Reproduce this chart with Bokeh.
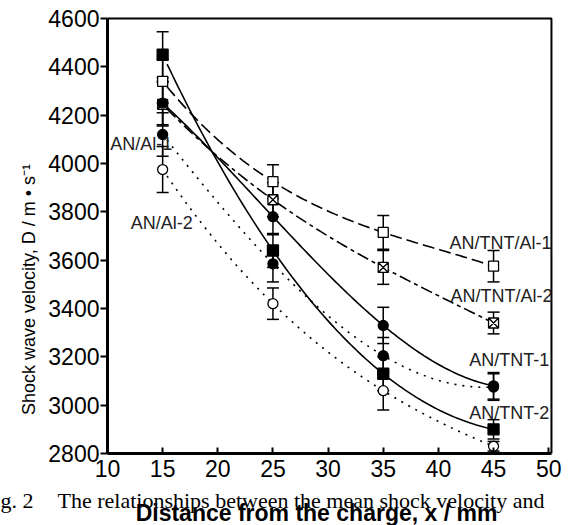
import numpy as np
from bokeh.plotting import figure
from bokeh.models import (ColumnDataSource, Whisker, TeeHead, Label, FixedTicker,
                          LinearAxis)
from bokeh.embed import file_html
from bokeh.resources import INLINE

# ---- data ----
distance = [15, 25, 35, 45]

tnt_al_1 = [4340, 3925, 3715, 3575]
tnt_al_1_err = [90, 70, 70, 65]
tnt_al_2 = [4245, 3850, 3570, 3340]
tnt_al_2_err = [90, 70, 70, 45]
tnt_1 = [4250, 3780, 3330, 3080]
tnt_1_err = [90, 75, 75, 55]
tnt_2 = [4450, 3640, 3130, 2900]
tnt_2_err = [95, 70, 70, 40]
al_1 = [4120, 3585, 3205, 3075]
al_1_err = [90, 75, 75, 55]
al_2 = [3975, 3420, 3060, 2830]
al_2_err = [95, 65, 80, 20]

x_ticks = [10, 15, 20, 25, 30, 35, 40, 45, 50]
y_ticks = [2800, 3000, 3200, 3400, 3600, 3800, 4000, 4200, 4400, 4600]
X_MIN, X_MAX = 10, 50.25
Y_MIN, Y_MAX = 2800, 4600

FONT = "Liberation Sans"

# the frame covers the whole canvas; axes are pinned at fixed locations
p = figure(width=569, height=525, output_backend="svg", toolbar_location=None,
           x_range=(0.30, 51.886), y_range=(2502.1, 4674.5),
           x_axis_location=None, y_axis_location=None,
           min_border_left=0, min_border_right=0, min_border_top=0, min_border_bottom=0)
p.grid.visible = False
p.outline_line_color = None
p.background_fill_color = "white"
p.border_fill_color = "white"

xaxis = LinearAxis(fixed_location=Y_MIN, bounds=(X_MIN, X_MAX),
                   ticker=FixedTicker(ticks=x_ticks))
yaxis = LinearAxis(fixed_location=X_MIN, bounds=(Y_MIN, Y_MAX),
                   ticker=FixedTicker(ticks=y_ticks))
for ax in (xaxis, yaxis):
    ax.axis_line_width = 3
    ax.major_tick_line_width = 2
    ax.minor_tick_line_color = None
    ax.major_label_text_font = FONT
    ax.major_label_text_font_size = "23px"
    ax.major_label_text_color = "black"
xaxis.major_tick_in = 6
xaxis.major_tick_out = 0
xaxis.major_label_standoff = 6
yaxis.major_tick_in = 0
yaxis.major_tick_out = 7
yaxis.major_label_standoff = 1
p.add_layout(xaxis, "below")
p.add_layout(yaxis, "left")

# top and right edges of the box
p.line([X_MIN, X_MAX, X_MAX], [Y_MAX, Y_MAX, Y_MIN], line_color="black", line_width=2)

series = [
    (tnt_al_1, tnt_al_1_err, "12 5", "square", 10, "white"),
    (tnt_al_2, tnt_al_2_err, "12 4 4 4", "square_x", 10, "white"),
    (tnt_1, tnt_1_err, "solid", "circle", 10, "black"),
    (tnt_2, tnt_2_err, "solid", "square", 11, "black"),
    (al_1, al_1_err, "2 6", "circle", 10, "black"),
    (al_2, al_2_err, "2 6", "circle", 10, "white"),
]

xs_fine = np.linspace(15.4, 44.6, 120)
for vals, err, dash, marker, size, fill in series:
    v = np.array(vals, dtype=float)
    e = np.array(err, dtype=float)
    src = ColumnDataSource(dict(x=distance, y=vals, lo=v - e, hi=v + e))
    w = Whisker(base="x", lower="lo", upper="hi", source=src, line_color="black",
                line_width=1.5,
                upper_head=TeeHead(size=12, line_width=1.5, line_color="black"),
                lower_head=TeeHead(size=12, line_width=1.5, line_color="black"))
    p.add_layout(w)
    coeffs = np.polyfit(distance, vals, 3)
    p.line(xs_fine, np.polyval(coeffs, xs_fine), line_color="black", line_width=1.6,
           line_dash=dash)

for vals, err, dash, marker, size, fill in series:
    p.scatter(distance, vals, marker=marker, size=size, fill_color=fill,
              line_color="black", line_width=1.3)

labels = [
    ("AN/Al-1", 10.25, 4080),
    ("AN/Al-2", 12.1, 3755),
    ("AN/TNT/Al-1", 41.0, 3673),
    ("AN/TNT/Al-2", 41.1, 3450),
    ("AN/TNT-1", 42.8, 3185),
    ("AN/TNT-2", 42.8, 2968),
]
for txt, lx, ly in labels:
    p.add_layout(Label(x=lx, y=ly, text=txt, text_font=FONT, text_font_size="18px",
                       text_color="#222222", text_baseline="middle", text_align="left"))

# y-axis title
p.add_layout(Label(x=28, y=236, x_units="screen", y_units="screen", angle=np.pi / 2,
                   text="Shock wave velocity, D / m \u2022 s\u207b\u00b9",
                   text_font=FONT, text_font_size="18px", text_color="black",
                   text_baseline="middle", text_align="center"))

# caption fragment and x-axis title (screen units from bottom-left)
p.add_layout(Label(x=0, y=25, x_units="screen", y_units="screen",
                   text="g. 2", text_font="Liberation Serif", text_font_size="22px",
                   text_color="black", text_baseline="middle", text_align="left"))
p.add_layout(Label(x=57, y=25, x_units="screen", y_units="screen",
                   text="The relationships between the mean shock velocity and",
                   text_font="Liberation Serif", text_font_size="22px",
                   text_color="black", text_baseline="middle", text_align="left"))
p.add_layout(Label(x=316, y=13, x_units="screen", y_units="screen",
                   text="Distance from the charge, x / mm",
                   text_font=FONT, text_font_size="23px", text_font_style="bold",
                   text_color="black", text_baseline="middle", text_align="center"))

open("out.html", "w").write(file_html(p, INLINE))
